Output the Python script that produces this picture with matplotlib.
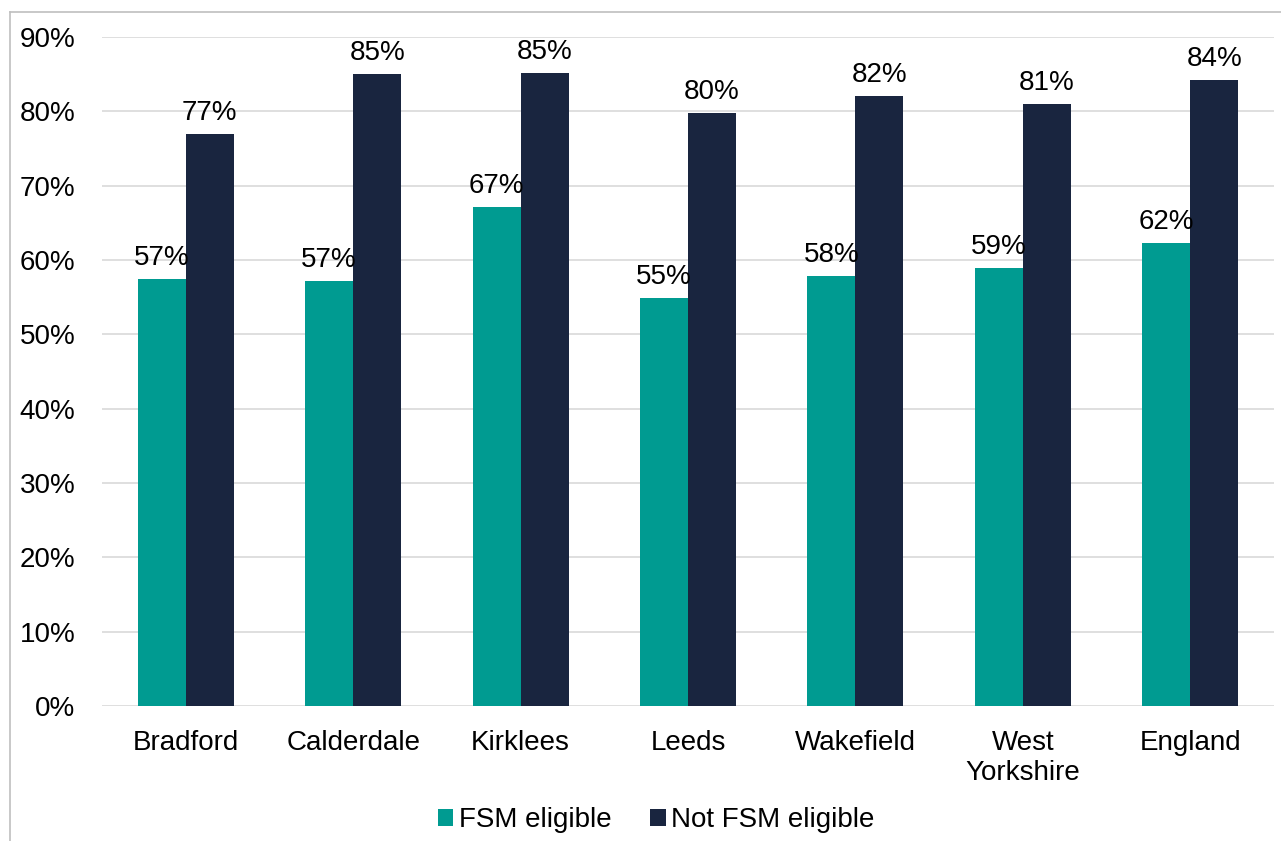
import numpy as np
import matplotlib.pyplot as plt
from matplotlib.lines import Line2D
from matplotlib.ticker import PercentFormatter

# data
areas = ['Bradford', 'Calderdale', 'Kirklees', 'Leeds', 'Wakefield', 'West\nYorkshire', 'England']
fsm = [57.4, 57.2, 67.1, 54.9, 57.8, 58.9, 62.3]
not_fsm = [76.9, 85.0, 85.2, 79.8, 82.1, 81.0, 84.2]

teal = '#009B91'
navy = '#19253F'

plt.rcParams['font.family'] = ['Liberation Sans', 'DejaVu Sans']
fs = 20

fig = plt.figure(figsize=(12.81, 8.41), dpi=100)
ax = fig.add_axes([102/1281, 1-706/841, (1274-102)/1281, (706-37)/841])

x = np.arange(len(areas))
w = 0.287
b1 = ax.bar(x - w/2, fsm, w, color=teal, label='FSM eligible', zorder=3)
b2 = ax.bar(x + w/2, not_fsm, w, color=navy, label='Not FSM eligible', zorder=3)

for bars, vals in ((b1, fsm), (b2, not_fsm)):
    for r, v in zip(bars, vals):
        ax.text(r.get_x() + r.get_width()/2, v + 1.1, '%d%%' % round(v),
                ha='center', va='bottom', fontsize=fs, zorder=4)

ax.set_ylim(0, 90)
ax.set_xlim(-0.5, len(areas) - 0.5)
ax.set_yticks(np.arange(0, 91, 10))
ax.yaxis.set_major_formatter(PercentFormatter(decimals=0))
ax.set_xticks(x)
ax.set_xticklabels(areas, linespacing=1.2)
ax.tick_params(axis='both', length=0, labelsize=fs)
ax.tick_params(axis='y', pad=19)
ax.tick_params(axis='x', pad=17)
ax.grid(axis='y', color='#D9D9D9', linewidth=1.2, zorder=0)
for s in ax.spines.values():
    s.set_visible(False)

ax.legend(loc='center', bbox_to_anchor=(0.473, -0.171), ncol=2, frameon=False,
          fontsize=fs, handlelength=0.55, handleheight=0.55, handletextpad=0.2,
          columnspacing=1.4, bbox_transform=ax.transAxes)

# outer frame (top and left edges visible)
fig.add_artist(Line2D([10/1281, 10/1281], [0, 1-12/841], color='#BFBFBF', lw=1.2))
fig.add_artist(Line2D([10/1281, 1], [1-12/841, 1-12/841], color='#BFBFBF', lw=1.2))

fig.savefig('out.png', dpi=100)
